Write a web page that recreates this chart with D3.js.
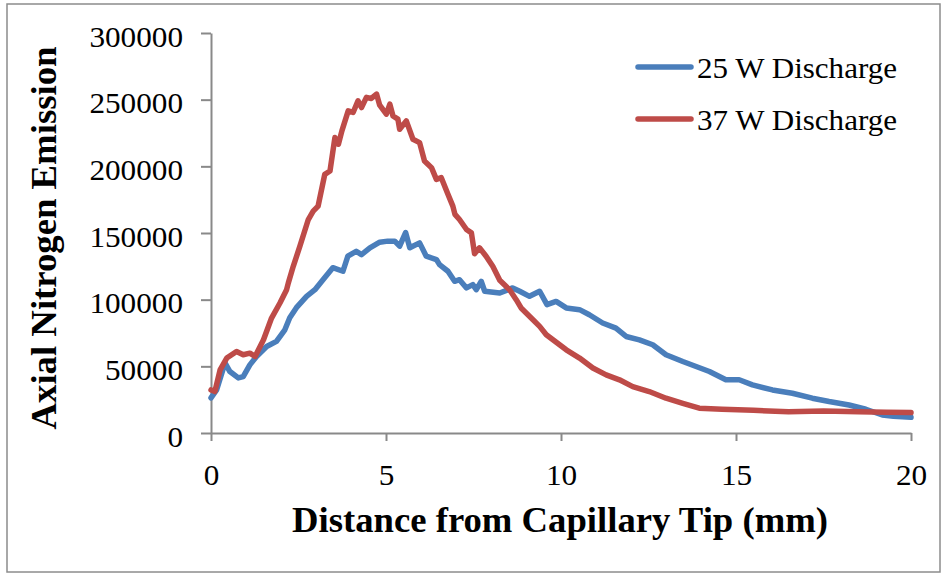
<!DOCTYPE html>
<html>
<head>
<meta charset="utf-8">
<script src="https://cdn.jsdelivr.net/npm/d3@7"></script>
<style>
  body { margin: 0; background: #fff; }
  svg { display: block; font-family: "Liberation Serif", "Times New Roman", serif; }
</style>
</head>
<body>
<div id="chart"></div>
<script>
// 25 W discharge
const x25 = [0, 0.16, 0.4, 0.54, 0.78, 0.92, 1.11, 1.3, 1.59, 1.87, 2.11, 2.25, 2.44, 2.73, 2.97, 3.2, 3.48, 3.77, 3.91, 4.15, 4.3, 4.54, 4.82, 5.05, 5.25, 5.39, 5.56, 5.68, 5.96, 6.15, 6.44, 6.53, 6.77, 6.96, 7.1, 7.3, 7.48, 7.58, 7.72, 7.82, 8.25, 8.62, 8.82, 9.1, 9.39, 9.6, 9.86, 10.15, 10.53, 10.81, 11.19, 11.57, 11.86, 12.24, 12.62, 13.0, 13.48, 13.86, 14.24, 14.71, 15.09, 15.47, 16.04, 16.61, 17.18, 17.66, 18.23, 18.71, 19.18, 19.5, 20];
const y25 = [26300, 32300, 52600, 46100, 41300, 42300, 51100, 57400, 64900, 68700, 77400, 86400, 94000, 102500, 107500, 115000, 124000, 121300, 132600, 136300, 133800, 138900, 143100, 143900, 143900, 140100, 150300, 138900, 142600, 132600, 130100, 126300, 121300, 113800, 115000, 108800, 111300, 107500, 113800, 106300, 105000, 108800, 106300, 102500, 106300, 96300, 98700, 93800, 92500, 88700, 82500, 78700, 72400, 69900, 66200, 58700, 53600, 49900, 46100, 39900, 39900, 36100, 32300, 29800, 26100, 23600, 21000, 17800, 13500, 12500, 11800];

// 37 W discharge
const x37 = [0, 0.11, 0.26, 0.45, 0.73, 0.92, 1.11, 1.26, 1.5, 1.73, 1.97, 2.16, 2.21, 2.35, 2.54, 2.78, 2.92, 3.06, 3.25, 3.4, 3.54, 3.64, 3.74, 3.92, 4.06, 4.2, 4.3, 4.44, 4.58, 4.73, 4.82, 5.01, 5.11, 5.2, 5.34, 5.39, 5.58, 5.77, 5.96, 6.1, 6.3, 6.44, 6.58, 6.77, 6.91, 6.97, 7.1, 7.3, 7.44, 7.53, 7.67, 7.86, 8.05, 8.25, 8.53, 8.72, 8.86, 9.2, 9.39, 9.58, 9.77, 10.15, 10.53, 10.91, 11.29, 11.67, 12.05, 12.52, 13.0, 13.48, 13.95, 14.6, 15.5, 16.5, 17.5, 18.5, 19.3, 20];
const y37 = [32300, 31100, 47400, 56200, 61100, 58700, 59900, 57400, 69900, 86200, 97500, 107500, 112600, 125000, 140100, 160100, 166400, 170200, 194000, 196500, 221600, 216600, 226600, 241600, 240400, 249100, 244100, 251700, 250900, 254200, 245900, 239100, 246600, 237800, 235400, 227800, 234100, 220300, 217800, 204000, 199000, 190200, 191500, 179000, 170200, 164000, 160100, 152600, 150100, 134500, 138900, 132600, 125000, 114500, 107500, 100000, 93800, 85000, 80000, 73700, 69900, 62400, 56200, 48700, 43600, 39900, 34800, 31100, 26100, 22300, 18600, 17800, 17000, 16000, 16500, 16000, 15500, 15300];

const seriesNames = ["25 W Discharge", "37 W Discharge"];
const seriesColors = ["#4a7ebb", "#be4b48"];
const xTicks = [0, 5, 10, 15, 20];
const yTicks = [0, 50000, 100000, 150000, 200000, 250000, 300000];

const W = 948, H = 574;
const m = { left: 211, right: 37, top: 33, bottom: 141 };

const svg = d3.select("#chart").append("svg")
  .attr("width", W)
  .attr("height", H);

// outer frame
svg.append("rect")
  .attr("x", 7).attr("y", 4)
  .attr("width", 933).attr("height", 568)
  .attr("fill", "#fff")
  .attr("stroke", "#8c8c8c")
  .attr("stroke-width", 1.5);

const x = d3.scaleLinear().domain([0, 20]).range([m.left, W - m.right]);
const y = d3.scaleLinear().domain([0, 300000]).range([H - m.bottom, m.top]);

const axisColor = "#898989";

const gy = svg.append("g")
  .attr("transform", `translate(${m.left},0)`)
  .call(d3.axisLeft(y).tickValues(yTicks).tickFormat(d3.format("d"))
    .tickSize(10).tickSizeOuter(0).tickPadding(18));
gy.selectAll("text").attr("dy", "0.45em");

const gx = svg.append("g")
  .attr("transform", `translate(0,${H - m.bottom})`)
  .call(d3.axisBottom(x).tickValues(xTicks).tickSize(8).tickSizeOuter(0).tickPadding(23));

[gx, gy].forEach(g => {
  g.select(".domain").attr("stroke", axisColor).attr("stroke-width", 2);
  g.selectAll(".tick line").attr("stroke", axisColor).attr("stroke-width", 2);
  g.selectAll("text")
    .attr("fill", "#000")
    .style("font-family", "'Liberation Serif', 'Times New Roman', serif")
    .style("font-size", "29px")
    // the reference digits are a little wider than the font's own
    .attr("textLength", function() { return this.textContent.length * 15.6; })
    .attr("lengthAdjust", "spacingAndGlyphs");
});

const series = [
  x25.map((d, i) => [d, y25[i]]),
  x37.map((d, i) => [d, y37[i]])
];

const line = d3.line()
  .x(d => x(d[0]))
  .y(d => y(d[1]));

svg.selectAll("path.series")
  .data(series)
  .join("path")
  .attr("class", "series")
  .attr("d", line)
  .attr("fill", "none")
  .attr("stroke", (d, i) => seriesColors[i])
  .attr("stroke-width", 5.5)
  .attr("stroke-linejoin", "round")
  .attr("stroke-linecap", "round");

// legend
const leg = svg.append("g");
seriesNames.forEach((name, i) => {
  const ly = 67 + i * 52;
  leg.append("line")
    .attr("x1", 638).attr("x2", 691)
    .attr("y1", ly).attr("y2", ly)
    .attr("stroke", seriesColors[i])
    .attr("stroke-width", 5.5)
    .attr("stroke-linecap", "round");
  leg.append("text")
    .attr("x", 697).attr("y", ly + 11)
    .attr("textLength", 200)
    .attr("lengthAdjust", "spacingAndGlyphs")
    .style("font-size", "30px")
    .text(name);
});

// axis titles
svg.append("text")
  .attr("x", 560).attr("y", 532)
  .attr("text-anchor", "middle")
  .attr("textLength", 536)
  .attr("lengthAdjust", "spacingAndGlyphs")
  .style("font-size", "36px")
  .style("font-weight", "bold")
  .text("Distance from Capillary Tip (mm)");

svg.append("text")
  .attr("transform", "translate(56,238) rotate(-90)")
  .attr("text-anchor", "middle")
  .attr("textLength", 383)
  .attr("lengthAdjust", "spacingAndGlyphs")
  .style("font-size", "35px")
  .style("font-weight", "bold")
  .text("Axial Nitrogen Emission");
</script>
</body>
</html>
